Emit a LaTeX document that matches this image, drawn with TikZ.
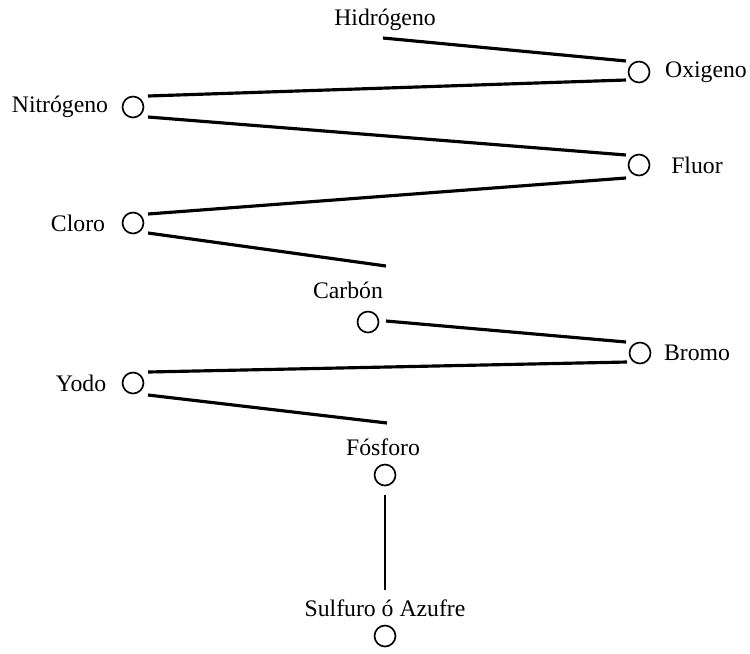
\documentclass[tikz,border=0pt]{standalone}
\usepackage{fontspec}
\setmainfont{Liberation Serif}
\usepackage{tikz}
\usetikzlibrary{calc}
\tikzset{bolita/.style={draw,circle,line width=0.95pt,minimum size=0.42cm,inner sep=0pt},
    enlace/.style={line width=1.8pt},
    nombre/.style={inner sep=0pt,font=\fontsize{13.5}{15}\selectfont}}
\newcommand{\elemento}[5]{\node[bolita] (#1) at (#2,#3) {}; \node[nombre] (#1t) at (#4,#3) {#5};}

\begin{document}
\begin{tikzpicture}[x=0.02cm,y=-0.02cm]
    \useasboundingbox (0,0) rectangle (750,653);
    %circulos y nombres
    \node[nombre] (Ht) at (385,20) {Hidrógeno};
    \elemento{O}{639}{72}{706}{Oxigeno}
    \elemento{N}{133}{107}{60}{Nitrógeno}
    \elemento{F}{639}{165}{697}{Fluor}
    \elemento{Cl}{133}{223}{78}{Cloro}
    \node[nombre] (Ct) at (348,290) {Carbón};
    \node[bolita] (C) at (368,322) {};
    \elemento{Br}{640}{353}{697}{Bromo}
    \elemento{I}{133}{383}{81}{Yodo}
    \node[nombre] (Pt) at (383,447) {Fósforo};
    \node[bolita] (P) at (385,475) {};
    \node[nombre] (St) at (385,608) {Sulfuro ó Azufre};
    \node[bolita] (S) at (385,636) {};
    %enlaces
    \draw[enlace] ($(Ht)+(-2,18)$) -- ($(O)+(-13,-11)$);
    \draw[enlace] ($(O)+(-13,8)$) -- ($(N)+(15,-11)$);
    \draw[enlace] ($(N)+(15,10)$) -- ($(F)+(-13,-10)$);
    \draw[enlace] ($(F)+(-13,13)$) -- ($(Cl)+(15,-9)$);
    \draw[enlace] ($(Cl)+(15,10)$) -- ($(Ct)+(38,-24)$);
    \draw[enlace] ($(C)+(18,-1)$) -- ($(Br)+(-14,-11)$);
    \draw[enlace] ($(Br)+(-13,9)$) -- ($(I)+(15,-11)$);
    \draw[enlace] ($(I)+(15,12)$) -- ($(Pt)+(4,-24)$);
    \draw[line width=1.2pt] ($(P)+(0,20)$) -- ($(St)+(0,-18)$);
\end{tikzpicture}
\end{document}
